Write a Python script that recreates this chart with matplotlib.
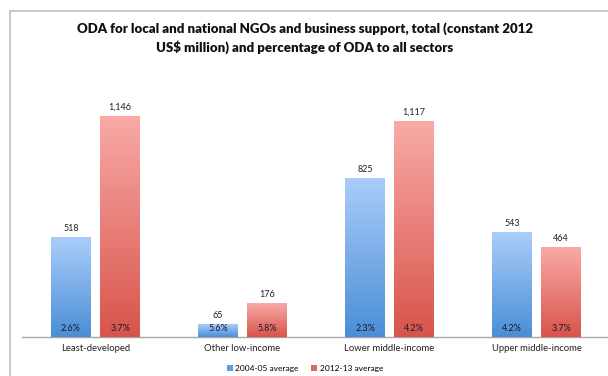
import numpy as np
import matplotlib.pyplot as plt
from matplotlib.colors import LinearSegmentedColormap
from matplotlib.patches import Rectangle, Patch

plt.rcParams['font.family'] = ['Lato', 'DejaVu Sans']

categories = ["Least-developed", "Other low-income", "Lower middle-income", "Upper middle-income"]
avg_2004_05 = [518, 65, 825, 543]
avg_2012_13 = [1146, 176, 1117, 464]
pct_2004_05 = ["2.6%", "5.6%", "2.3%", "4.2%"]
pct_2012_13 = ["3.7%", "5.8%", "4.2%", "3.7%"]
series_names = ["2004-05 average", "2012-13 average"]

blue_cmap = LinearSegmentedColormap.from_list("blue_grad", ["#4a8ed6", "#aacdfa"])
red_cmap = LinearSegmentedColormap.from_list("red_grad", ["#d8544b", "#f9aaa7"])

W, H = 608, 376
fig = plt.figure(figsize=(W / 100, H / 100), dpi=100)

# outer chart frame (runs off the right and bottom edges)
fig.patches.append(Rectangle((10 / W, -0.1), 1.2, (H - 11) / H + 0.1,
                             transform=fig.transFigure, fill=False,
                             edgecolor="#bfbfbf", linewidth=1.2, clip_on=False))

ax = fig.add_axes([22 / W, (H - 337) / H, (W - 22) / W, 260 / H])

x = np.arange(len(categories))
bw = 0.272
off = 0.167


def gradient_bars(xs, vals, cmap, label):
    bars = ax.bar(xs, vals, width=bw, color=cmap(0.5), label=label, zorder=2)
    grad = np.linspace(0, 1, 256).reshape(-1, 1)
    for b in bars:
        x0, y0 = b.get_x(), b.get_y()
        im = ax.imshow(grad, cmap=cmap, origin="lower", aspect="auto",
                       extent=(x0, x0 + b.get_width(), y0, y0 + b.get_height()),
                       zorder=3)
        im.set_clip_path(b)
    return bars


gradient_bars(x - off, avg_2004_05, blue_cmap, series_names[0])
gradient_bars(x + off, avg_2012_13, red_cmap, series_names[1])

for i in range(len(categories)):
    for xs, v, p in ((x[i] - off, avg_2004_05[i], pct_2004_05[i]),
                     (x[i] + off, avg_2012_13[i], pct_2012_13[i])):
        ax.text(xs, v + 22, f"{v:,}", ha="center", va="bottom", fontsize=6.5, color="#222222")
        ax.text(xs, 42, p, ha="center", va="center", fontsize=6.5, color="#1a1a2e", zorder=4)

ax.set_xticks(x)
ax.set_xticklabels(categories, fontsize=6.8, color="#222222")
ax.tick_params(axis="x", length=0, pad=5)
ax.set_yticks([])
for s in ("top", "right", "left"):
    ax.spines[s].set_visible(False)
ax.spines["bottom"].set_color("#a6a6a6")
ax.spines["bottom"].set_linewidth(1)
ax.set_xlim(-0.5, 3.486)
ax.set_ylim(0, 260 / 0.193)

fig.text(305 / W, 1 - 38 / H,
         "ODA for local and national NGOs and business support, total (constant 2012\nUS$ million) and percentage of ODA to all sectors",
         ha="center", va="center", fontsize=9.5, fontweight="heavy", linespacing=1.4, color="#111111")

handles = [Patch(facecolor="#5f9de0"), Patch(facecolor="#e4665e")]
fig.legend(handles, series_names, loc="center", bbox_to_anchor=(305 / W, 1 - 368 / H),
           ncol=2, frameon=False, fontsize=6, handlelength=0.7, handleheight=0.7,
           handletextpad=0.3, columnspacing=1.5)

fig.savefig("out.png", dpi=100)
